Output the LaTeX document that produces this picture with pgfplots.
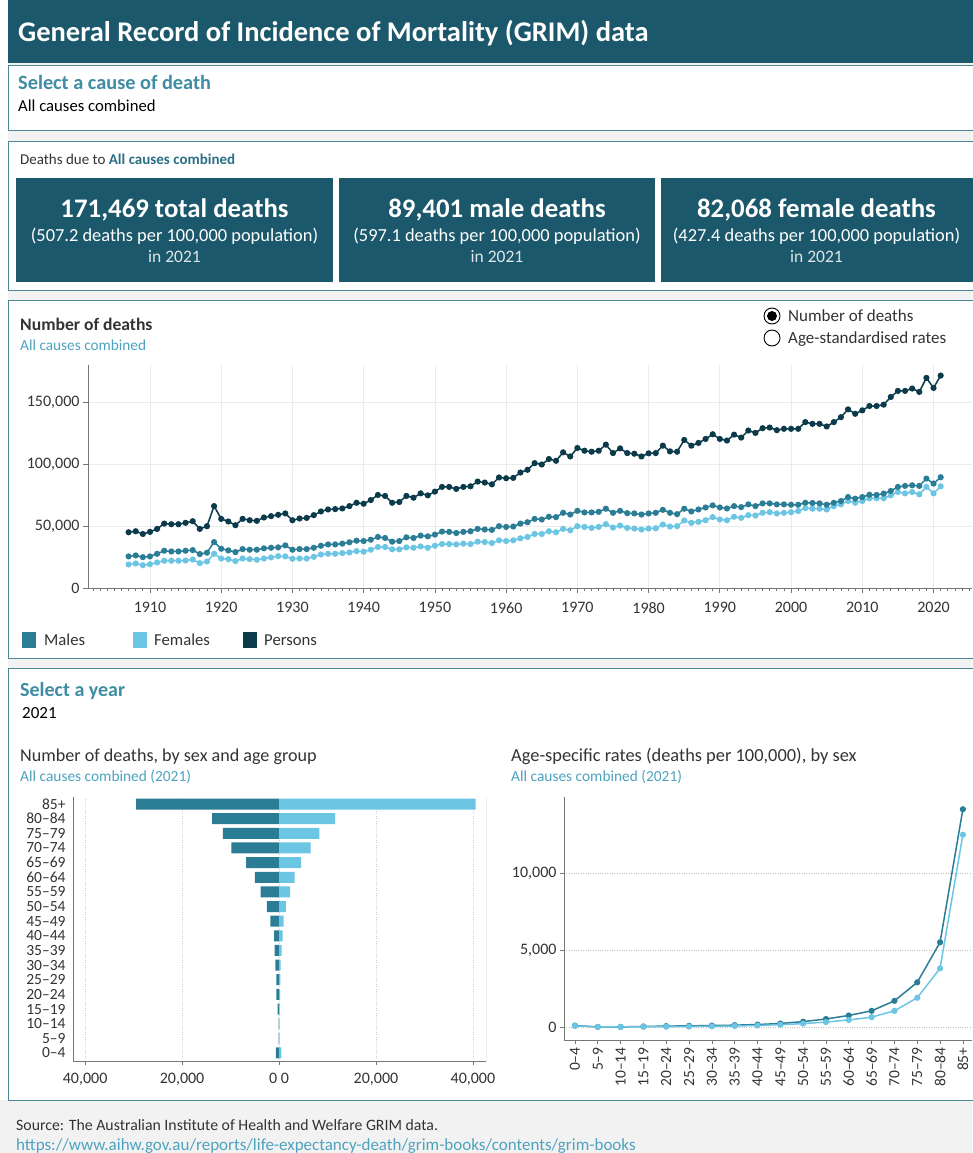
\documentclass[border=0pt]{standalone}
\usepackage{fontspec}
\setmainfont{Carlito}
\usepackage{pgfplots}
\pgfplotsset{compat=1.18}
\usepackage{pgfplotstable}
\definecolor{hdr}{HTML}{1C586B}
\definecolor{male}{HTML}{2B7D96}
\definecolor{female}{HTML}{6CC5E3}
\definecolor{persons}{HTML}{0B3B4B}
\definecolor{tealtxt}{HTML}{3E8DA3}
\definecolor{subtxt}{HTML}{4DA3BF}
\definecolor{boldteal}{HTML}{2B6F85}
\definecolor{bord}{HTML}{4E8596}
\definecolor{bg}{HTML}{F2F2F2}
\definecolor{axgray}{HTML}{777777}
\definecolor{txt}{HTML}{333333}
\newcommand{\fs}[1]{\fontsize{#1}{#1}\selectfont}

\pgfplotstableread{
year M F P
1907 25500 19000 45000
1908 26300 19800 45800
1909 24900 18400 43600
1910 25500 19200 45300
1911 27600 20600 47700
1912 30100 22000 52000
1913 29500 22000 51500
1914 29500 22000 51500
1915 30100 22200 52600
1916 30600 23000 53900
1917 27400 20100 47700
1918 28500 21400 49900
1919 37100 27600 66100
1920 31700 23800 55800
1921 30400 23300 53700
1922 29000 21700 50700
1923 31400 23800 55800
1924 30900 23300 54700
1925 30900 22800 54200
1926 32000 23800 56900
1927 32500 24700 58000
1928 32800 25700 59100
1929 34400 25500 60200
1930 30900 23600 54700
1931 31400 23800 56100
1932 31400 23800 56600
1933 32500 25200 58800
1934 34100 27100 61800
1935 35200 27600 63400
1936 35200 27600 63700
1937 35800 28200 64200
1938 36900 28700 66100
1939 38200 29800 68800
1940 37900 29300 68000
1941 39000 30900 71000
1942 41200 33100 75100
1943 40400 33100 74300
1944 37400 31200 68800
1945 37900 31200 69400
1946 40900 32800 74300
1947 40400 32500 72900
1948 42300 33600 76400
1949 41700 32500 74800
1950 43100 34100 77800
1951 45500 35500 81600
1952 45300 35500 81600
1953 44400 35200 80000
1954 45300 35800 81600
1955 45800 35500 82100
1956 47700 37400 85900
1957 47200 37100 85100
1958 46900 36300 83700
1959 49900 38500 89200
1960 49300 37900 88600
1961 49600 38500 88900
1962 52000 40100 93200
1963 53100 41200 95400
1964 55800 43600 100800
1965 55300 43600 99700
1966 57500 45800 104100
1967 57200 45000 102700
1968 60700 47700 109500
1969 59300 46600 106200
1970 62300 49900 113000
1971 61000 49300 110800
1972 61000 48500 110000
1973 61500 49300 110800
1974 64000 51500 115700
1975 60700 48800 108900
1976 62300 50400 112700
1977 60400 48500 108900
1978 60200 48000 108400
1979 59300 47200 106200
1980 60200 48000 108700
1981 60700 48200 108900
1982 63100 51200 114900
1983 60700 49600 110300
1984 59600 49900 110000
1985 64000 54500 119500
1986 61800 52600 114900
1987 63400 53400 117100
1988 65000 54700 120300
1989 66700 57200 124100
1990 65000 55300 120300
1991 64200 54700 119000
1992 66100 57500 123800
1993 65300 56600 121400
1994 67500 58800 127100
1995 66100 58500 125200
1996 68300 60700 129000
1997 68300 61200 129500
1998 67500 60200 127400
1999 67500 60700 128500
2000 67200 61200 128500
2001 67200 62100 128500
2002 68800 64500 133900
2003 68600 64000 132500
2004 68300 64000 132500
2005 67200 63400 130400
2006 68800 66100 133900
2007 70200 67500 137900
2008 73400 70200 144200
2009 72100 68800 140600
2010 73400 70200 143400
2011 75300 72400 146900
2012 75100 72400 146900
2013 76200 72400 148000
2014 78300 74800 154200
2015 81600 77500 159100
2016 82400 76400 159100
2017 82900 77500 161000
2018 82400 75600 158300
2019 88300 81600 169600
2020 84300 76400 161500
2021 89401 82068 171469
}\grimdata

\begin{document}
\begin{tikzpicture}
\useasboundingbox (0,0) rectangle (972pt,-1153pt);
\fill[bg] (0,0) rectangle (972pt,-1153pt);
\begin{scope}[x=1pt,y=-1pt]
\fill[white] (0,0) rectangle (8,1100);
% header
\fill[hdr] (8,0) rectangle (975,63);
\node[anchor=base west, text=white, font=\fs{28.5}\bfseries, inner sep=0pt] at (18,42) {General Record of Incidence of Mortality (GRIM) data};
% panel A
\filldraw[fill=white, draw=bord, line width=0.8pt] (8,65) rectangle (975,130);
\node[anchor=base west, text=tealtxt, font=\fs{20.3}\bfseries, inner sep=0pt] at (18,90) {Select a cause of death};
\node[anchor=base west, text=black, font=\fs{16.7}, inner sep=0pt] at (18,112) {All causes combined};
% panel B
\filldraw[fill=white, draw=bord, line width=0.8pt] (8,141) rectangle (975,290);
\node[anchor=base west, text=txt, font=\fs{15}, inner sep=0pt] at (20,164) {Deaths due to \textcolor{boldteal}{\bfseries All causes combined}};
\fill[hdr] (16,178) rectangle (333,282);
\fill[hdr] (339,178) rectangle (655,282);
\fill[hdr] (661,178) rectangle (975,282);
\foreach \cx/\a/\b in {174.5/{171,469 total deaths}/{(507.2 deaths per 100,000 population)},
                      497/{89,401 male deaths}/{(597.1 deaths per 100,000 population)},
                      816.5/{82,068 female deaths}/{(427.4 deaths per 100,000 population)}}{
  \node[anchor=base, text=white, font=\fs{26.8}\bfseries, inner sep=0pt] at (\cx,217) {\a};
  \node[anchor=base, text=white, font=\fs{18.4}, inner sep=0pt] at (\cx,241) {\b};
  \node[anchor=base, text=white!85!hdr, font=\fs{17.5}, inner sep=0pt] at (\cx,262) {in 2021};
}
% panel C
\filldraw[fill=white, draw=bord, line width=0.8pt] (8,300) rectangle (975,658);
\node[anchor=base west, text=txt, font=\fs{17.6}\bfseries, inner sep=0pt] at (20,330) {Number of deaths};
\node[anchor=base west, text=subtxt, font=\fs{15.3}, inner sep=0pt] at (20,350) {All causes combined};
\draw[black, line width=0.9pt, fill=white] (772,316) circle (8);
\fill[black] (772,316) circle (5);
\draw[black, line width=0.9pt, fill=white] (772,338) circle (8);
\node[anchor=base west, text=txt, font=\fs{17}, inner sep=0pt] at (788,321) {Number of deaths};
\node[anchor=base west, text=txt, font=\fs{17}, inner sep=0pt] at (788,343) {Age-standardised rates};
% legend
\fill[male] (22,632) rectangle (36,648);
\node[anchor=base west, text=txt, font=\fs{16.7}, inner sep=0pt] at (44,645) {Males};
\fill[female] (133,632) rectangle (147,648);
\node[anchor=base west, text=txt, font=\fs{16.7}, inner sep=0pt] at (154,645) {Females};
\fill[persons] (243,632) rectangle (257,648);
\node[anchor=base west, text=txt, font=\fs{16.7}, inner sep=0pt] at (264,645) {Persons};
% panel D
\filldraw[fill=white, draw=bord, line width=0.8pt] (8,668) rectangle (975,1100);
\node[anchor=base west, text=tealtxt, font=\fs{20}\bfseries, inner sep=0pt] at (20,696) {Select a year};
\node[anchor=base west, text=black, font=\fs{17}, inner sep=0pt] at (22,718) {2021};
\node[anchor=base west, text=txt, font=\fs{18.1}, inner sep=0pt] at (20,761) {Number of deaths, by sex and age group};
\node[anchor=base west, text=subtxt, font=\fs{15.4}, inner sep=0pt] at (20,781) {All causes combined (2021)};
\node[anchor=base west, text=txt, font=\fs{18.4}, inner sep=0pt] at (511,761) {Age-specific rates (deaths per 100,000), by sex};
\node[anchor=base west, text=subtxt, font=\fs{15.4}, inner sep=0pt] at (511,781) {All causes combined (2021)};
% footer
\node[anchor=base west, text=txt, font=\fs{15.8}, inner sep=0pt] at (16,1130) {Source: The Australian Institute of Health and Welfare GRIM data.};
\node[anchor=base west, text=subtxt, font=\fs{17}, inner sep=0pt] at (16,1150) {\underline{https://www.aihw.gov.au/reports/life-expectancy-death/grim-books/contents/grim-books}};
\end{scope}

% ---------- line chart ----------
\begin{axis}[
  at={(88pt,-365pt)}, anchor=north west, scale only axis,
  width=884pt, height=223pt,
  xmin=1901.3, xmax=2025.4, ymin=0, ymax=180000,
  scaled ticks=false,
  axis x line=bottom, axis y line=left,
  axis line style={-, draw=axgray, line width=0.9pt},
  xtick={1910,1920,...,2020},
  xticklabels={1910,1920,1930,1940,1950,1960,1970,1980,1990,2000,2010,2020},
  minor xtick={1902,1903,...,2025},
  ytick={0,50000,100000,150000},
  yticklabels={0,{50,000},{100,000},{150,000}},
  tick align=outside, major tick length=5pt, minor tick length=3pt,
  tick style={draw=axgray, line width=0.7pt},
  xmajorgrids, ymajorgrids,
  major grid style={draw=black!8, line width=0.7pt},
  ticklabel style={font=\fs{16}, text=txt},
  xticklabel shift=6pt,
]
\addplot[female, line width=1.5pt, mark=*, mark size=2.3pt] table[x=year, y=F] {\grimdata};
\addplot[male, line width=1.5pt, mark=*, mark size=2.3pt] table[x=year, y=M] {\grimdata};
\addplot[persons, line width=1.5pt, mark=*, mark size=2.3pt] table[x=year, y=P] {\grimdata};
\end{axis}

% ---------- pyramid ----------
\begin{axis}[
  at={(73pt,-797pt)}, anchor=north west, scale only axis,
  width=413pt, height=264pt,
  xmin=-42500, xmax=42700, ymin=-0.55, ymax=17.48,
  scaled ticks=false,
  axis x line=bottom, axis y line=left,
  axis line style={-, draw=axgray, line width=0.9pt},
  xtick={-40000,-20000,0,20000,40000},
  xticklabels={{40,000},{20,000},{0 0},{20,000},{40,000}},
  ytick={0,...,17},
  yticklabels={0--4,5--9,10--14,15--19,20--24,25--29,30--34,35--39,40--44,45--49,50--54,55--59,60--64,65--69,70--74,75--79,80--84,85+},
  tick align=outside, major tick length=4pt,
  xtick style={draw=axgray, line width=0.7pt},
  ytick style={draw=none},
  xmajorgrids, major grid style={draw=black!18, dotted, line width=0.7pt},
  ticklabel style={font=\fs{16}, text=txt},
  yticklabel style={font=\fs{15.5}},
  xticklabel shift=5pt,
]
\addplot[xbar, bar shift=0pt, bar width=11pt, fill=male, draw=none] coordinates {
(-640,0) (-60,1) (-80,2) (-290,3) (-540,4) (-560,5) (-760,6) (-890,7) (-1030,8) (-1790,9)
(-2480,10) (-3780,11) (-5000,12) (-6800,13) (-9830,14) (-11600,15) (-13800,16) (-29490,17)};
\addplot[xbar, bar shift=0pt, bar width=11pt, fill=female, draw=none] coordinates {
(500,0) (50,1) (60,2) (130,3) (220,4) (260,5) (340,6) (550,7) (760,8) (970,9)
(1440,10) (2270,11) (3230,12) (4540,13) (6530,14) (8310,15) (11600,16) (40550,17)};
\draw[axgray, line width=0.9pt] (rel axis cs:1,0) -- (rel axis cs:1,1);
\end{axis}

% ---------- rates ----------
\begin{axis}[
  at={(564pt,-797pt)}, anchor=north west, scale only axis,
  width=408pt, height=243pt,
  xmin=-0.48, xmax=17.4, ymin=-844, ymax=14935,
  scaled ticks=false,
  axis x line=bottom, axis y line=left,
  axis line style={-, draw=axgray, line width=0.9pt},
  xtick={0,...,17},
  xticklabels={0--4,5--9,10--14,15--19,20--24,25--29,30--34,35--39,40--44,45--49,50--54,55--59,60--64,65--69,70--74,75--79,80--84,85+},
  xticklabel style={rotate=90, anchor=east, font=\fs{15.5}},
  ytick={0,5000,10000},
  yticklabels={0,{5,000},{10,000}},
  tick align=outside, major tick length=4pt,
  tick style={draw=axgray, line width=0.7pt},
  ymajorgrids, major grid style={draw=black!25, dotted, line width=0.7pt},
  ticklabel style={text=txt},
  yticklabel style={font=\fs{16}},
]
\addplot[male, line width=1.5pt, mark=*, mark size=2.3pt] coordinates {
(0,95) (1,8) (2,9) (3,35) (4,60) (5,75) (6,95) (7,120) (8,160) (9,230) (10,350) (11,520)
(12,750) (13,1050) (14,1700) (15,2900) (16,5500) (17,14140)};
\addplot[female, line width=1.5pt, mark=*, mark size=2.3pt] coordinates {
(0,75) (1,7) (2,8) (3,18) (4,24) (5,30) (6,45) (7,65) (8,100) (9,150) (10,220) (11,320)
(12,460) (13,640) (14,1050) (15,1900) (16,3810) (17,12490)};
\end{axis}
\end{tikzpicture}
\end{document}
